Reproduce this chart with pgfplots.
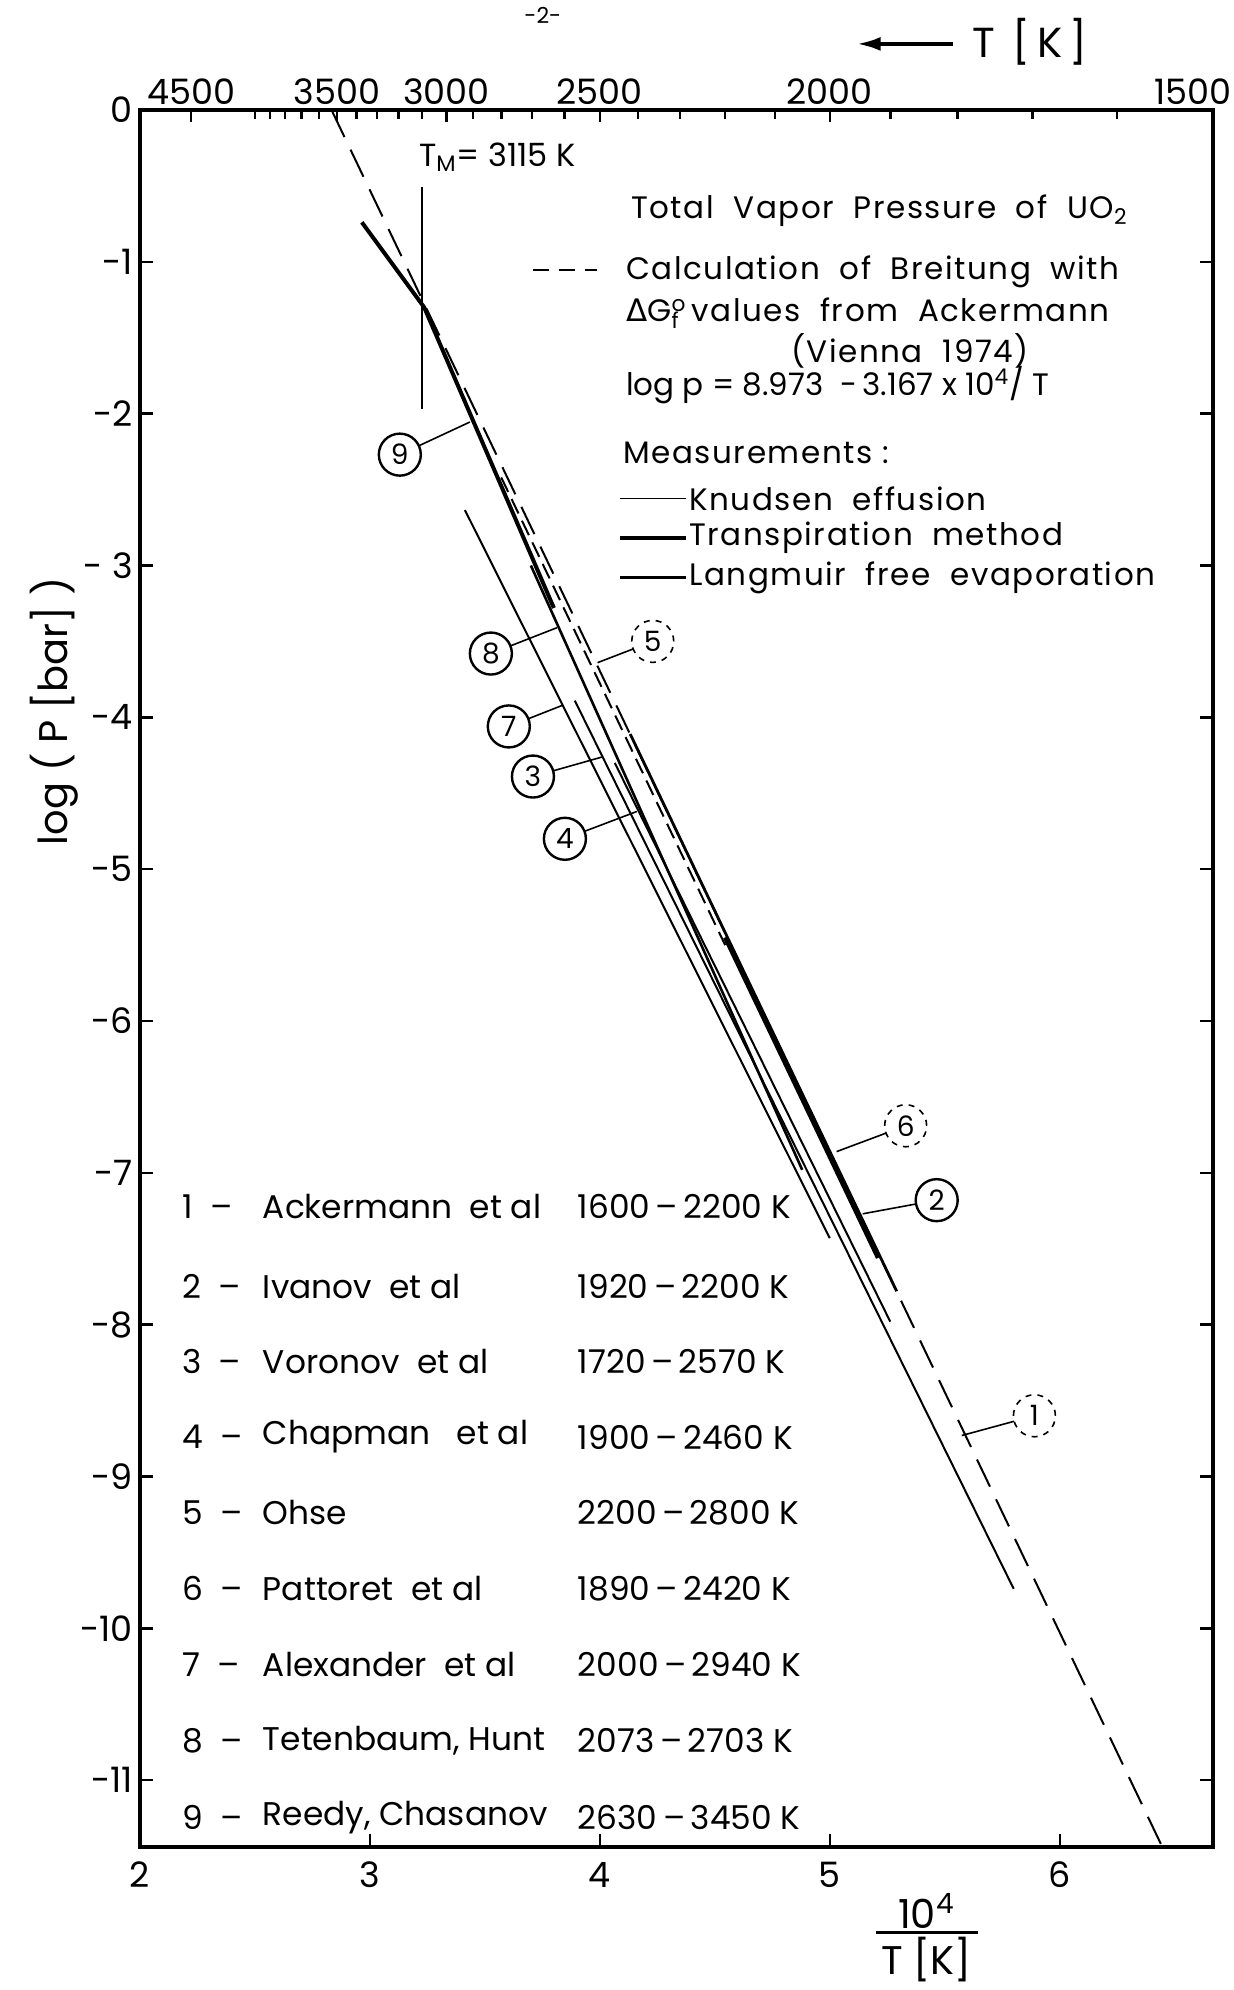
\documentclass[border=0pt]{standalone}
\usepackage{fontspec}
\setmainfont{Poppins}
\newfontfamily\dejavu{DejaVu Sans}
\newfontfamily\wide[LetterSpace=5]{Poppins}
\usepackage{pgfplots}
\pgfplotsset{compat=1.18}
\usetikzlibrary{arrows.meta}

\newcommand\fs[1]{\fontsize{#1}{#1}\selectfont}

% frame shared by both axes (1px of the scan = 0.5pt)
\pgfplotsset{
  uoframe/.style={
    scale only axis, width=536.5pt, height=868.5pt,
    xmin=2, xmax=6.6667, ymin=-11.44, ymax=0,
    axis line style={line width=2pt},
    tick align=inside,
    every tick/.style={black, line width=1.2pt},
    tick label style={font=\fs{17.5}},
  }
}

% circled curve number with leader: x y label xleader yleader style
\newcommand\clab[6]{%
  \draw[line width=0.8pt] (axis cs:#4,#5) -- (axis cs:#1,#2);
  \node[circle, draw, #6, fill=white, minimum size=21pt, inner sep=0pt,
        font=\fs{14}] at (axis cs:#1,#2) {#3};}

\begin{document}
\begin{tikzpicture}

% top scale: temperature in K, and log minor ticks on the left
\begin{axis}[uoframe,
  axis x line*=top, axis y line*=left,
  xtick={2.2222,2.8571,3.3333,4,5},
  xticklabels={4500,3500,3000,2500,2000},
  extra x ticks={6.6667}, extra x tick labels={1500},
  extra x tick style={tick label style={xshift=-10pt}},
  minor xtick={2.5,2.5641,2.6316,2.7027,2.7778,2.9412,3.0303,3.125,3.2258,
    3.4483,3.5714,3.7037,3.8462,4.1667,4.3478,4.5455,4.7619,5.2632,5.5556,
    5.8824,6.25},
  ytick=\empty,
  minor ytick={-0.097,-0.222,-0.398,-0.699,-1.097,-1.222,-1.398,-1.699,
    -2.097,-2.222,-2.398,-2.699,-3.097,-3.222,-3.398,-3.699,
    -4.097,-4.222,-4.398,-4.699,-5.097,-5.222,-5.398,-5.699,
    -6.097,-6.222,-6.398,-6.699,-7.097,-7.222,-7.398,-7.699,
    -8.097,-8.222,-8.398,-8.699,-9.097,-9.222,-9.398,-9.699,
    -10.097,-10.222,-10.398,-10.699,-11.097,-11.222,-11.398},
  major tick length=6pt, minor tick length=4.5pt,
  xticklabel style={inner sep=2.5pt},
]
\end{axis}

\begin{axis}[uoframe, clip=false,
  xtick={2,3,4,5,6}, xticklabels={2,3,4,5,6}, xtick pos=left,
  ytick={0,-1,...,-11},
  yticklabels={0,-1,-2,- 3,-4,-5,-6,-7,-8,-9,-10,-11},
  ytick pos=both, yticklabel pos=left,
  major tick length=6.5pt,
  xticklabel style={yshift=-4pt},
]
\coordinate (O) at (axis cs:2,-11.44);

% calculation of Breitung: log p = 8.973 - 3.167 x 10^4/T
\addplot[black, line width=1pt, dash pattern=on 15pt off 7pt] coordinates {(2.833,0) (6.44,-11.42)};
% 9 Reedy, Chasanov
\addplot[black, line width=2pt] coordinates {(2.965,-0.74) (3.236,-1.30) (3.80,-3.28)};
% 8 Tetenbaum, Hunt
\addplot[black, line width=1.3pt] coordinates {(3.70,-3.00) (4.88,-6.98)};
% 7 Alexander et al
\addplot[black, line width=1pt] coordinates {(3.413,-2.635) (5.0,-7.43)};
% 3 Voronov et al
\addplot[black, line width=1pt] coordinates {(3.891,-3.89) (5.80,-9.74)};
% 4 Chapman et al
\addplot[black, line width=1pt] coordinates {(4.065,-4.30) (5.263,-7.98)};
% 5 Ohse
\addplot[black, line width=1pt, dash pattern=on 8pt off 4pt] coordinates {(3.571,-2.42) (4.545,-5.50)};
% 6 Pattoret et al
\addplot[black, line width=1.4pt] coordinates {(4.132,-4.11) (5.291,-7.78)};
% 2 Ivanov et al
\addplot[black, line width=2.2pt] coordinates {(4.545,-5.45) (5.21,-7.56)};

% melting point
\draw[line width=1pt] (axis cs:3.225,-0.51) -- (axis cs:3.225,-1.97);
\node[anchor=west, font=\fs{16}] at (axis cs:3.183,-0.31) {T\textsubscript{M}= 3115 K};

% curve numbers
\clab{3.13}{-2.27}{9}{3.435}{-2.055}{line width=1.2pt}
\clab{3.526}{-3.58}{8}{3.813}{-3.41}{line width=1.2pt}
\clab{4.23}{-3.50}{5}{3.99}{-3.64}{line width=0.8pt, dashed}
\clab{3.604}{-4.06}{7}{3.839}{-3.92}{line width=1.2pt}
\clab{3.709}{-4.39}{3}{4.013}{-4.26}{line width=1.2pt}
\clab{3.848}{-4.80}{4}{4.161}{-4.62}{line width=1.2pt}
\clab{5.33}{-6.69}{6}{5.03}{-6.86}{line width=0.8pt, dashed}
\clab{5.465}{-7.18}{2}{5.143}{-7.27}{line width=1.2pt}
\clab{5.89}{-8.60}{1}{5.574}{-8.73}{line width=0.8pt, dashed}

% explanation block
\begin{scope}[every node/.style={anchor=west, inner sep=0pt, font=\wide\fs{15.5}}]
\node at (axis cs:4.135,-0.665) {Total\ \ Vapor\ \ Pressure\ \ of\ \ UO\textsubscript{2}};
\draw[line width=1pt, dash pattern=on 8pt off 5pt] (axis cs:3.709,-1.055) -- (axis cs:3.987,-1.055);
\node at (axis cs:4.113,-1.067) {Calculation\ \ of\ \ Breitung\ \ with};
\node at (axis cs:4.113,-1.317) {{\dejavu Δ}G\rlap{\smash{\textsubscript{f}}}\textsuperscript{o}\,values\ \ from\ \ Ackermann};
\node at (axis cs:4.83,-1.585) {(Vienna\ \ 1974)};
\node[font=\fs{15.5}] at (axis cs:4.113,-1.81) {log p = 8.973\ \ -\,3.167 x 10\textsuperscript{4}/ T};
\node at (axis cs:4.10,-2.26) {Measurements :};
\draw[line width=0.8pt] (axis cs:4.087,-2.56) -- (axis cs:4.374,-2.56);
\node at (axis cs:4.387,-2.56) {Knudsen\ \ effusion};
\draw[line width=1.8pt] (axis cs:4.087,-2.82) -- (axis cs:4.374,-2.82);
\node at (axis cs:4.387,-2.82) {Transpiration\ \ method};
\draw[line width=1.2pt] (axis cs:4.087,-3.08) -- (axis cs:4.374,-3.08);
\node at (axis cs:4.387,-3.08) {Langmuir\ \ free\ \ evaporation};
\end{scope}

% list of measurements
\begin{scope}[every node/.style={anchor=west, font=\fs{16.4}}]
\node at (axis cs:2.152,-7.22) {1 \ –};   \node at (axis cs:2.504,-7.22) {Ackermann\ \ et al};   \node at (axis cs:3.874,-7.22) {1600\,–\,2200 K};
\node at (axis cs:2.152,-7.747) {2 \ –};  \node at (axis cs:2.504,-7.747) {Ivanov\ \ et al};     \node at (axis cs:3.874,-7.747) {1920\,–\,2200 K};
\node at (axis cs:2.152,-8.24) {3 \ –};   \node at (axis cs:2.504,-8.24) {Voronov\ \ et al};     \node at (axis cs:3.874,-8.24) {1720\,–\,2570 K};
\node at (axis cs:2.152,-8.74) {4 \ –};   \node at (axis cs:2.504,-8.74) {Chapman\ \ \ et al};   \node at (axis cs:3.874,-8.74) {1900\,–\,2460 K};
\node at (axis cs:2.152,-9.236) {5 \ –};  \node at (axis cs:2.504,-9.236) {Ohse};               \node at (axis cs:3.874,-9.236) {2200\,–\,2800 K};
\node at (axis cs:2.152,-9.737) {6 \ –};  \node at (axis cs:2.504,-9.737) {Pattoret\ \ et al};   \node at (axis cs:3.874,-9.737) {1890\,–\,2420 K};
\node at (axis cs:2.152,-10.24) {7 \ –};  \node at (axis cs:2.504,-10.24) {Alexander\ \ et al};  \node at (axis cs:3.874,-10.24) {2000\,–\,2940 K};
\node at (axis cs:2.152,-10.74) {8 \ –};  \node at (axis cs:2.504,-10.74) {Tetenbaum, Hunt};    \node at (axis cs:3.874,-10.74) {2073\,–\,2703 K};
\node at (axis cs:2.152,-11.245) {9 \ –}; \node at (axis cs:2.504,-11.245) {Reedy, Chasanov};   \node at (axis cs:3.874,-11.245) {2630\,–\,3450 K};
\end{scope}

% axis titles
\node[rotate=90, font=\fs{20}] at (axis cs:1.625,-3.96) {log ( P [bar] )};
\node[font=\fs{20}] at (axis cs:5.42,-11.86) {10\textsuperscript{4}};
\draw[line width=1.5pt] (axis cs:5.2,-12.0) -- (axis cs:5.643,-12.0);
\node[font=\fs{20}] at (axis cs:5.42,-12.18) {T [K]};
\draw[-{Latex[length=12pt,width=7pt]}, line width=2pt] (axis cs:5.535,0.435) -- (axis cs:5.117,0.435);
\node[font=\fs{21}] at (axis cs:5.87,0.448) {T\ \,[\,K\,]};
\node[font=\fs{11}] at (axis cs:3.752,0.626) {-2-};
\end{axis}

\pgfresetboundingbox
\path[use as bounding box] ([shift={(-70pt,-71.5pt)}]O) rectangle ([shift={(547pt,923.5pt)}]O);
\end{tikzpicture}
\end{document}
